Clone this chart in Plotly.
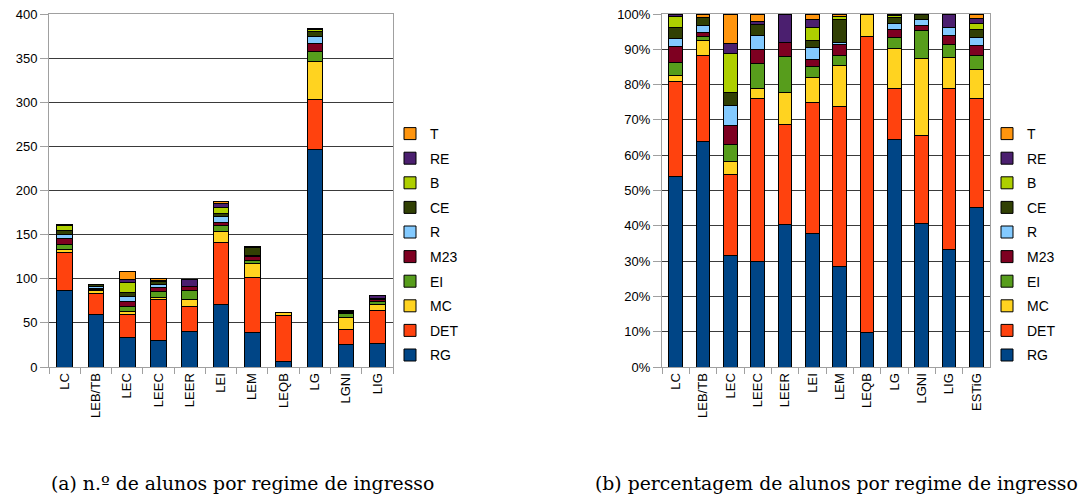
import plotly.graph_objects as go

categories = ["LC", "LEB/TB", "LEC", "LEEC", "LEER", "LEI", "LEM", "LEQB", "LG", "LGNI", "LIG"]
pct_extra_category = "ESTiG"

series_names = ["RG", "DET", "MC", "EI", "M23", "R", "CE", "B", "RE", "T"]
RG  = [87, 60, 34, 30, 40, 71, 39, 6, 247, 26, 27]
DET = [43, 23, 25, 46, 28, 70, 62, 52, 56, 16, 37]
MC  = [3, 4, 4, 3, 9, 13, 16, 4, 43, 14, 7]
EI  = [6, 1, 5, 7, 10, 6, 4, 0, 12, 5, 3]
M23 = [7, 1, 6, 4, 4, 4, 4, 0, 9, 1, 2]
R   = [4, 2, 6, 4, 0, 6, 1, 0, 7, 1, 2]
CE  = [5, 2, 4, 3, 0, 4, 9, 0, 6, 1, 0]
B   = [5, 0, 12, 0, 0, 7, 1, 0, 2, 0, 0]
RE  = [1, 0, 3, 1, 8, 4, 0, 0, 0, 0, 3]
T   = [0, 1, 9, 2, 0, 3, 1, 0, 2, 0, 0]
series_values = [RG, DET, MC, EI, M23, R, CE, B, RE, T]

colors = ["#004586", "#ff420e", "#ffd320", "#579d1c", "#7e0021",
          "#83caff", "#314004", "#aecf00", "#4b1f6f", "#ff950e"]

caption_a = "(a) n.º de alunos por regime de ingresso"
caption_b = "(b) percentagem de alunos por regime de ingresso"

# percentages (per course plus the whole school)
pct_categories = categories + [pct_extra_category]
totals = [sum(s[i] for s in series_values) for i in range(len(categories))]
grand_total = sum(totals)
pct_values = []
for s in series_values:
    vals = [100.0 * s[i] / totals[i] for i in range(len(categories))]
    vals.append(100.0 * sum(s) / grand_total)
    pct_values.append(vals)

fig = go.Figure()
for k, (name, vals, col) in enumerate(zip(series_names, series_values, colors)):
    fig.add_trace(go.Bar(x=categories, y=vals, name=name, marker_color=col,
                         marker_line=dict(color="#000000", width=1),
                         xaxis="x", yaxis="y", legend="legend",
                         legendgroup="a" + name, legendrank=1000 - k))
for k, (name, vals, col) in enumerate(zip(series_names, pct_values, colors)):
    fig.add_trace(go.Bar(x=pct_categories, y=vals, name=name, marker_color=col,
                         marker_line=dict(color="#000000", width=1),
                         xaxis="x2", yaxis="y2", legend="legend2",
                         legendgroup="b" + name, legendrank=1000 - k))

# page offset (browser body margin) compensation
OFF = 8
W, H = 1087 - OFF, 494 - OFF
def px_x(p): return (p - OFF) / W
def px_y(p): return (H - (p - OFF)) / H

tickfont = dict(family="Liberation Sans", size=13, color="#000000")
grid = "#3a3a3a"
axcol = "#a0a0a0"

common_x = dict(type="category", tickangle=-90, tickfont=tickfont, ticks="outside",
                tickson="boundaries", ticklen=6, tickcolor=axcol, showline=True,
                linecolor=axcol, mirror=True, showgrid=False, automargin=False,
                ticklabeloverflow="allow")
common_y = dict(tickfont=tickfont, ticks="outside", ticklen=8, tickcolor=axcol,
                showline=True, linecolor=axcol, mirror=True, showgrid=True,
                gridcolor=grid, gridwidth=1, zeroline=False, automargin=False,
                ticklabeloverflow="allow")

legfont = dict(family="Liberation Sans", size=14, color="#000000")

fig.update_layout(
    width=W, height=H,
    margin=dict(l=0, r=0, t=0, b=0, autoexpand=False),
    paper_bgcolor="white", plot_bgcolor="white",
    barmode="stack", bargap=0.5,
    font=dict(family="Liberation Sans", size=14, color="#000000"),
    xaxis=dict(domain=[px_x(49), px_x(393)], anchor="y", **common_x),
    yaxis=dict(domain=[px_y(367), px_y(14)], anchor="x", range=[0, 400], dtick=50, **common_y),
    xaxis2=dict(domain=[px_x(662), px_x(990)], anchor="y2", **common_x),
    yaxis2=dict(domain=[px_y(367), px_y(14)], anchor="x2", range=[0, 100], dtick=10,
                ticksuffix="%", **common_y),
    legend=dict(x=px_x(390), y=px_y(118), xanchor="left", yanchor="top",
                traceorder="grouped", tracegroupgap=3.4, itemwidth=30,
                font=legfont, bgcolor="rgba(0,0,0,0)"),
    legend2=dict(x=px_x(987), y=px_y(118), xanchor="left", yanchor="top",
                 traceorder="grouped", tracegroupgap=3.4, itemwidth=30,
                 font=legfont, bgcolor="rgba(0,0,0,0)"),
    annotations=[
        dict(text=caption_a, x=px_x(242), y=px_y(483), xref="paper", yref="paper",
             xanchor="center", yanchor="middle",
             showarrow=False, font=dict(family="DejaVu Serif", size=18.8, color="#000000")),
        dict(text=caption_b, x=px_x(836), y=px_y(483), xref="paper", yref="paper",
             xanchor="center", yanchor="middle",
             showarrow=False, font=dict(family="DejaVu Serif", size=18.8, color="#000000")),
    ],
)

fig.write_html("out.html")
